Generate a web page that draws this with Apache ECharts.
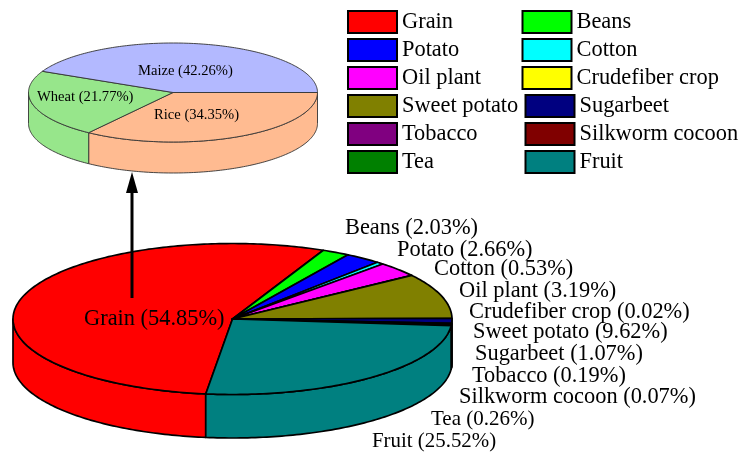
<!DOCTYPE html>
<html>
<head>
<meta charset="utf-8">
<style>html,body{margin:0;padding:0;background:#fff}#c{width:739px;height:452px}</style>
<script src="https://cdn.jsdelivr.net/npm/echarts@6/dist/echarts.min.js"></script>
</head>
<body>
<div id="c"></div>
<script>
// ---- data ----
const cropNames = ['Grain','Beans','Potato','Cotton','Oil plant','Crudefiber crop','Sweet potato','Sugarbeet','Tobacco','Silkworm cocoon','Tea','Fruit'];
const cropValues = [54.85,2.03,2.66,0.53,3.19,0.02,9.62,1.07,0.19,0.07,0.26,25.52];
const grainNames = ['Rice','Wheat','Maize'];
const grainValues = [34.35,21.77,42.26];

// ---- styles & layout ----
const cropColors = ['#ff0000','#00ff00','#0000ff','#00ffff','#ff00ff','#ffff00','#808000','#000080','#800080','#800000','#008000','#008080'];
const grainColors = ['#ffbb91','#97e68b','#b3b9ff'];
const FONT = '"Liberation Serif","Times New Roman",serif';
const cropLabelAt = [[84,319],[345,228],[397,250],[434,269],[459,291],[469,312],[473,332],[475,354],[472,376],[459,397],[431,419],[372,442]];
const cropLabelFont = [22.4,22.4,22.4,22.4,22.4,22.4,22.4,22.4,22.4,22.4,21,20.9];
const grainLabelAt = [[154,115.5],[37,97.5],[138,71.5]];
const grainLabelFont = [14.6,14.6,14.6];
const bigPie = {cx:232.5, cy:319, rx:219.5, ry:75.5, depth:43.5, start:187, stroke:1.7, strokeColor:'#000'};
const smallPie = {cx:173, cy:92.5, rx:144.5, ry:49.5, depth:31, start:90, stroke:0.9, strokeColor:'#333'};

function pt(p, deg, dy){
  const t = deg*Math.PI/180;
  return [p.cx + p.rx*Math.sin(t), p.cy - p.ry*Math.cos(t) + (dy||0)];
}
function arc(p, a, b, dy){
  const out = [], n = Math.max(1, Math.ceil(b-a));
  for (let i=0;i<=n;i++) out.push(pt(p, a+(b-a)*i/n, dy));
  return out;
}
function pieSeries(names, values, colors, labelAt, labelFont, p){
  const total = values.reduce((s,v)=>s+v,0);
  let acc = p.start;
  return names.map((name,i)=>{
    const a = acc, b = acc + values[i]/total*360;
    acc = b;
    return {
      type:'custom', name, coordinateSystem:'none', silent:true, animation:false,
      itemStyle:{color:colors[i], borderColor:'#000', borderWidth:2},
      data:[[values[i]]],
      renderItem(){
        const style = {fill:colors[i], stroke:p.strokeColor, lineWidth:p.stroke, lineJoin:'round'};
        const children = [];
        [0,360].forEach(k=>{
          const lo = Math.max(a-k,90), hi = Math.min(b-k,270);
          if (lo<hi){
            children.push({type:'polygon', z2:1, shape:{points:arc(p,lo,hi,0).concat(arc(p,lo,hi,p.depth).reverse())}, style});
          }
        });
        children.push({type:'polygon', z2:2, shape:{points:[[p.cx,p.cy]].concat(arc(p,a,b,0))}, style});
        children.push({type:'text', z2:3, style:{text:name+' ('+values[i].toFixed(2)+'%)', x:labelAt[i][0], y:labelAt[i][1], verticalAlign:'middle', align:'left', font:labelFont[i]+'px '+FONT, fill:'#000'}});
        return {type:'group', children};
      }
    };
  });
}
function legendBlock(data, left, top){
  return {
    show:true, data, orient:'vertical', left, top, icon:'rect',
    itemWidth:49, itemHeight:22, itemGap:4, padding:0, selectedMode:false,
    itemStyle:{borderColor:'#000', borderWidth:2},
    textStyle:{fontFamily:FONT, fontSize:22.4, color:'#000'}
  };
}
const chart = echarts.init(document.getElementById('c'), null, {renderer:'canvas'});
chart.setOption({
  backgroundColor:'#fff',
  animation:false,
  legend:[
    legendBlock(cropNames.filter((_,i)=>i%2===0), 347, 10),
    legendBlock([cropNames[1],cropNames[3],cropNames[5]], 521.5, 10),
    legendBlock([cropNames[7],cropNames[9],cropNames[11]], 524.5, 94)
  ],
  series: pieSeries(cropNames,cropValues,cropColors,cropLabelAt,cropLabelFont,bigPie)
    .concat(pieSeries(grainNames,grainValues,grainColors,grainLabelAt,grainLabelFont,smallPie)),
  graphic:[
    {type:'line', z:10, shape:{x1:132,y1:298,x2:132,y2:190}, style:{stroke:'#000', lineWidth:3}},
    {type:'polygon', z:10, shape:{points:[[132,172],[138,193],[126,193]]}, style:{fill:'#000'}}
  ]
});
</script>
</body>
</html>
